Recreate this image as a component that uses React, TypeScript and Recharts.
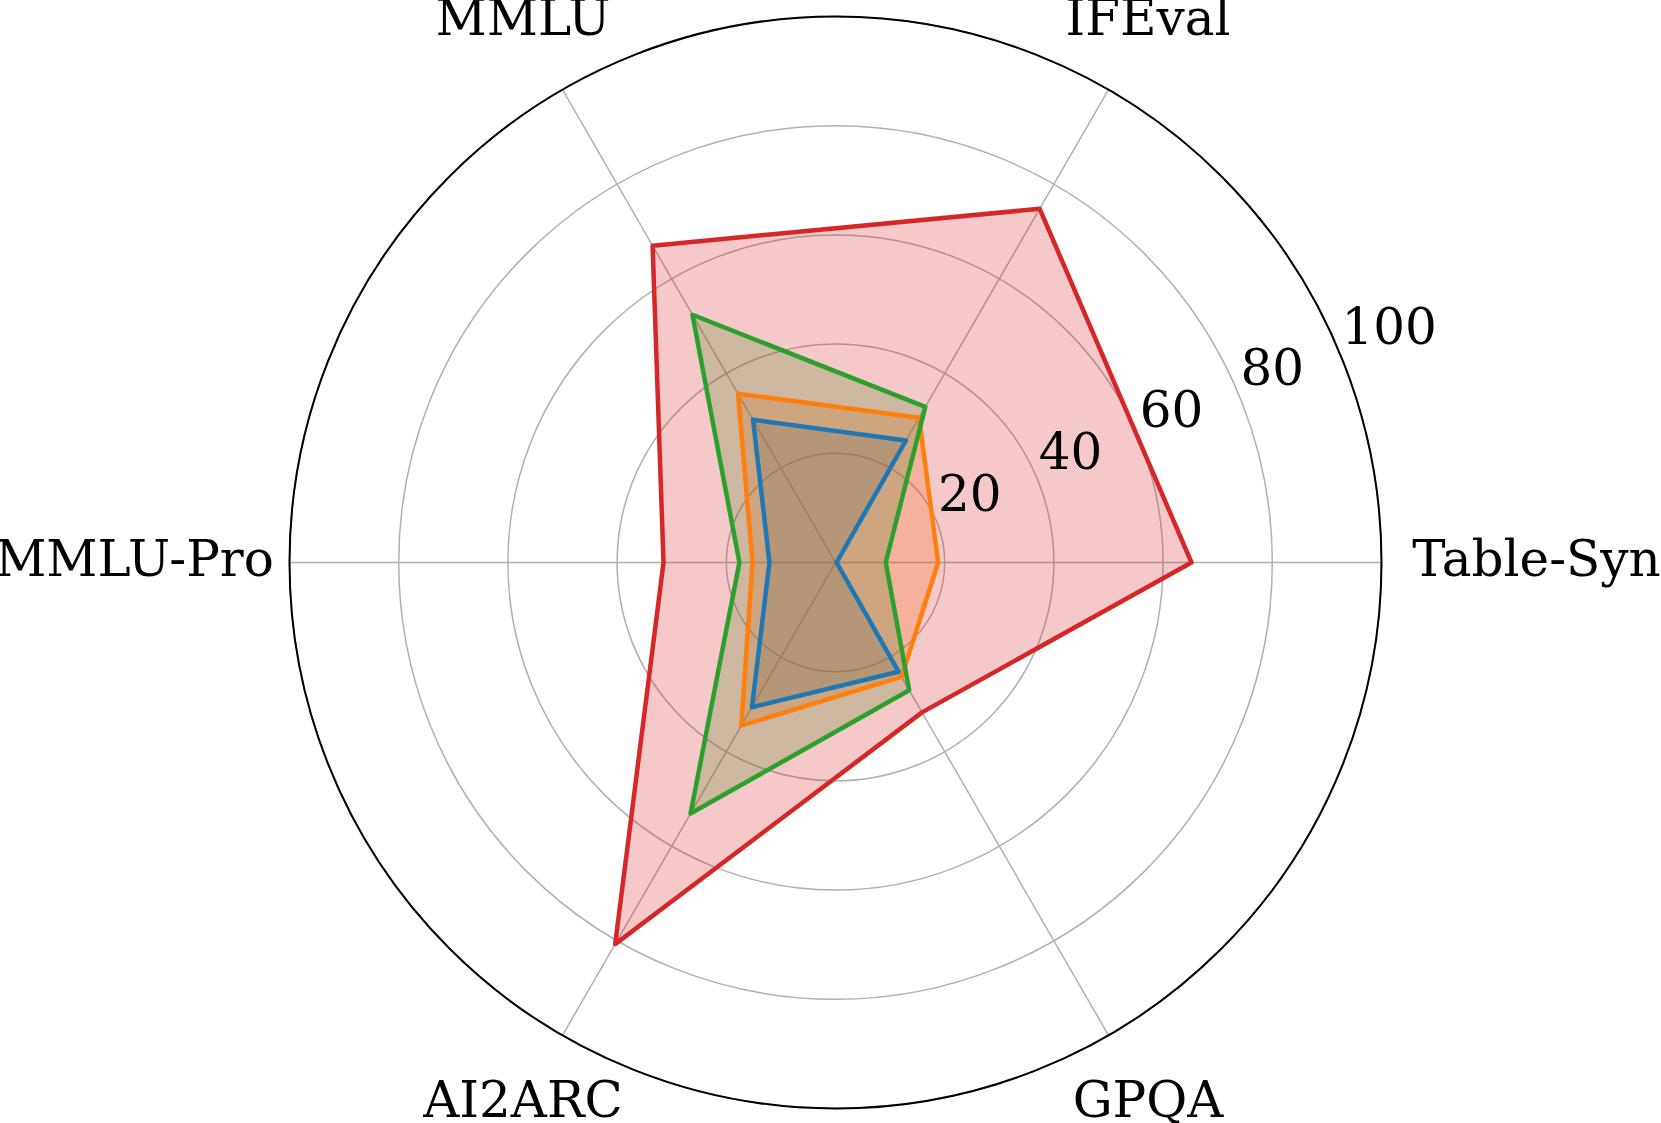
import { RadarChart, Radar, PolarGrid, PolarAngleAxis, PolarRadiusAxis } from "recharts";

const categories = ["Table-Syn", "IFEval", "MMLU", "MMLU-Pro", "AI2ARC", "GPQA"];
const blueScores = [0.2, 25.8, 30.2, 12.1, 30.6, 23.1];
const orangeScores = [18.8, 30.6, 35.7, 15.2, 34.5, 24.2];
const greenScores = [9.2, 32.9, 52.4, 17.6, 53.1, 27.0];
const redScores = [65.2, 74.8, 67.0, 31.5, 80.7, 31.7];

const data = categories.map((name, i) => ({
  name,
  blue: blueScores[i],
  orange: orangeScores[i],
  green: greenScores[i],
  red: redScores[i],
}));

const series = [
  { key: "blue", color: "#1f77b4" },
  { key: "orange", color: "#ff7f0e" },
  { key: "green", color: "#2ca02c" },
  { key: "red", color: "#d62728" },
];

const W = 1661;
const H = 1123;
const CX = 835.5;
const CY = 562.5;
const R = 546;
const FONT = "'DejaVu Serif', serif";

function AngleTick(props: any) {
  const idx = categories.indexOf(props.payload.value);
  const rad = ((idx * 360) / categories.length) * (Math.PI / 180);
  const dist = 549 + 152 * Math.abs(Math.cos(rad));
  const x = CX + dist * Math.cos(rad);
  const y = CY - dist * Math.sin(rad);
  return (
    <text x={x} y={y + 13.5} textAnchor="middle" fontFamily={FONT} fontSize={50} fill="#000">
      {props.payload.value}
    </text>
  );
}

function RadiusTick(props: any) {
  const v = props.payload.value;
  if (v === 0) return null;
  return (
    <text x={props.x + 1.5} y={props.y - 10} textAnchor="start" fontFamily={FONT} fontSize={50} fill="#000">
      {v}
    </text>
  );
}

export default function App() {
  return (
    <div style={{ position: "absolute", left: 0, top: 0, width: W, height: H, background: "#fff" }}>
      <RadarChart
        width={W}
        height={H}
        data={data}
        cx={CX}
        cy={CY}
        outerRadius={R}
        startAngle={-60}
        endAngle={300}
        margin={{ top: 0, right: 0, bottom: 0, left: 0 }}
      >
        <PolarGrid gridType="circle" stroke="#b0b0b0" strokeWidth={1.5} />
        <PolarAngleAxis dataKey="name" tick={<AngleTick />} axisLine={false} tickLine={false} />
        <PolarRadiusAxis
          angle={22.5}
          domain={[0, 100]}
          tickCount={6}
          axisLine={false}
          tickLine={false}
          tick={<RadiusTick />}
        />
        {/* fills first, then outlines on top (like matplotlib zorder) */}
        {series.map((s) => (
          <Radar
            key={s.key + "-fill"}
            dataKey={s.key}
            stroke="none"
            fill={s.color}
            fillOpacity={0.25}
            dot={false}
            isAnimationActive={false}
          />
        ))}
        {series.map((s) => (
          <Radar
            key={s.key + "-line"}
            dataKey={s.key}
            stroke={s.color}
            strokeWidth={4.5}
            strokeLinejoin="round"
            fill="none"
            fillOpacity={0}
            dot={false}
            isAnimationActive={false}
          />
        ))}
        <PolarGrid gridType="circle" radialLines={false} polarRadius={[R]} stroke="#000" strokeWidth={2} />
      </RadarChart>
    </div>
  );
}
